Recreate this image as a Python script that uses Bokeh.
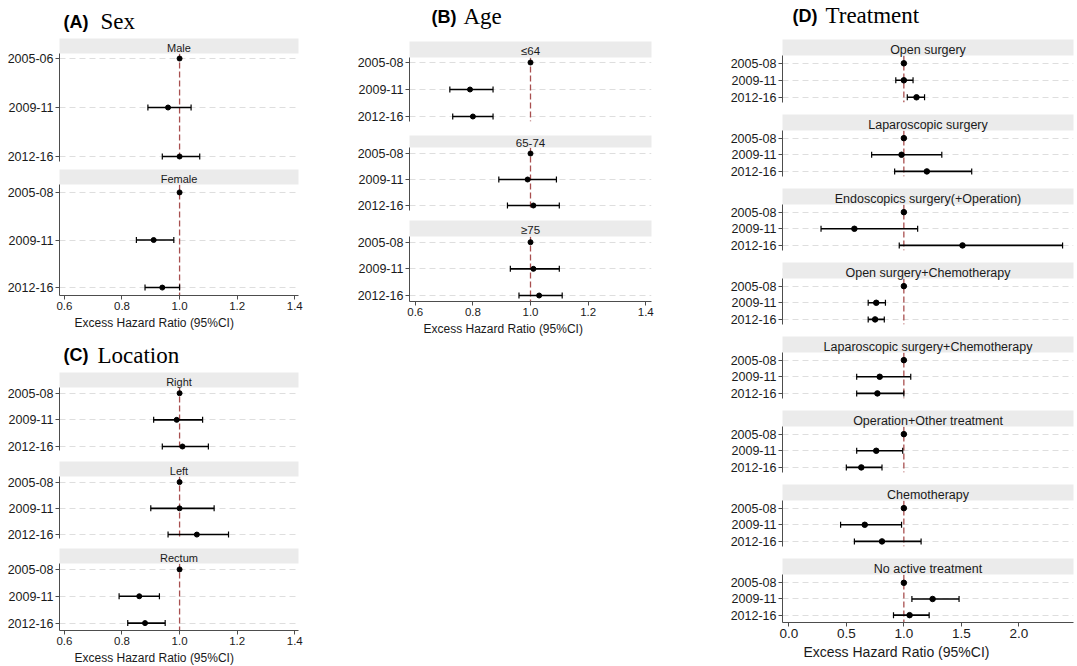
from bokeh.plotting import figure
from bokeh.models import (ColumnDataSource, Range1d, FixedTicker, LinearAxis, Span,
                          Whisker, TeeHead, Label, Title, PrintfTickFormatter)
from bokeh.layouts import column, row
from bokeh.embed import file_html
from bokeh.resources import INLINE

# ---------------- data ----------------
periods = ["2005-08", "2009-11", "2012-16"]
male_periods = ["2005-06", "2009-11", "2012-16"]   # as printed in the source figure

sex_groups = ["Male", "Female"]
sex_est = [[1.00, 0.96, 1.00], [1.00, 0.91, 0.94]]
sex_lo = [[1.00, 0.89, 0.94], [1.00, 0.85, 0.88]]
sex_hi = [[1.00, 1.04, 1.07], [1.00, 0.98, 1.00]]

age_groups = ["≤64", "65-74", "≥75"]
age_est = [[1.00, 0.79, 0.80], [1.00, 0.99, 1.01], [1.00, 1.01, 1.03]]
age_lo = [[1.00, 0.72, 0.73], [1.00, 0.89, 0.92], [1.00, 0.93, 0.96]]
age_hi = [[1.00, 0.87, 0.87], [1.00, 1.09, 1.10], [1.00, 1.10, 1.11]]

loc_groups = ["Right", "Left", "Rectum"]
loc_est = [[1.00, 0.99, 1.01], [1.00, 1.00, 1.06], [1.00, 0.86, 0.88]]
loc_lo = [[1.00, 0.91, 0.94], [1.00, 0.90, 0.96], [1.00, 0.79, 0.82]]
loc_hi = [[1.00, 1.08, 1.10], [1.00, 1.12, 1.17], [1.00, 0.93, 0.95]]

trt_groups = ["Open surgery", "Laparoscopic surgery", "Endoscopics surgery(+Operation)",
              "Open surgery+Chemotherapy", "Laparoscopic surgery+Chemotherapy",
              "Operation+Other treatment", "Chemotherapy", "No active treatment"]
trt_est = [[1.00, 1.00, 1.11], [1.00, 0.98, 1.20], [1.00, 0.57, 1.51], [1.00, 0.76, 0.75],
           [1.00, 0.79, 0.77], [1.00, 0.76, 0.63], [1.00, 0.66, 0.81], [1.00, 1.25, 1.05]]
trt_lo = [[1.00, 0.93, 1.03], [1.00, 0.72, 0.92], [1.00, 0.28, 0.96], [1.00, 0.69, 0.69],
          [1.00, 0.59, 0.59], [1.00, 0.59, 0.50], [1.00, 0.45, 0.57], [1.00, 1.07, 0.91]]
trt_hi = [[1.00, 1.08, 1.18], [1.00, 1.33, 1.59], [1.00, 1.12, 2.38], [1.00, 0.84, 0.83],
          [1.00, 1.06, 1.00], [1.00, 0.99, 0.81], [1.00, 0.98, 1.15], [1.00, 1.48, 1.22]]

panel_letters = ["(A)", "(B)", "(C)", "(D)"]
panel_names = ["Sex", "Age", "Location", "Treatment"]

ticks_small = [0.6, 0.8, 1.0, 1.2, 1.4]
ticks_trt = [0.0, 0.5, 1.0, 1.5, 2.0]
axis_title = "Excess Hazard Ratio (95%CI)"

SANS = "Liberation Sans"
SERIF = "Liberation Serif"
AX = "#4d4d4d"
TXT = "#1a1a1a"


def title_fig(width, L, R, height, letter, word, lx, wx, mid):
    fw = width - L - R
    p = figure(width=width, height=height, x_range=Range1d(0, fw), y_range=Range1d(height, 0),
               output_backend="svg", toolbar_location=None,
               x_axis_location=None, y_axis_location=None,
               min_border_left=L, min_border_right=R, min_border_top=0, min_border_bottom=0)
    p.outline_line_color = None
    p.grid.visible = False
    p.add_layout(Label(x=lx, y=mid, text=letter, text_font=SANS, text_font_style="bold",
                       text_font_size="18px", text_baseline="middle", text_color="black"))
    p.add_layout(Label(x=wx, y=mid, text=word, text_font=SERIF, text_font_size="23px",
                       text_baseline="middle", text_color="black"))
    return p


def subpanel(group, labels, est, lo, hi, width, L, R, T, fh, B, pt, pb, xr,
             strip_font, strip_off, ylab_font, dot, bottom=None):
    n = len(labels)
    spacing = (fh - pt - pb) / (n - 1)
    yr = Range1d(start=(n - 1) + pb / spacing, end=-pt / spacing)
    p = figure(width=width, height=T + fh + B, x_range=Range1d(*xr), y_range=yr,
               output_backend="svg", toolbar_location=None,
               x_axis_location=("below" if bottom else None),
               min_border_left=L, min_border_right=R, min_border_top=T, min_border_bottom=B)
    p.outline_line_color = None
    p.xgrid.visible = False

    if bottom:
        ticks, fmt, tick_font, lab_font, lab_off = bottom
        xa = p.below[0]
        xa.ticker = FixedTicker(ticks=ticks, minor_ticks=[])
        xa.formatter = PrintfTickFormatter(format=fmt)
        xa.major_tick_out = 4
        xa.major_tick_in = 0
        xa.minor_tick_line_color = None
        xa.major_label_standoff = 2
        xa.axis_line_color = AX
        xa.major_tick_line_color = AX
        xa.major_label_text_font = SANS
        xa.major_label_text_font_size = tick_font
        xa.major_label_text_color = TXT
        p.add_layout(Title(text=axis_title, align="left", offset=lab_off,
                           text_font=SANS, text_font_size=lab_font,
                           text_font_style="normal", text_color=TXT, standoff=2),
                     "below")

    idx = list(range(n))
    tk = FixedTicker(ticks=idx, minor_ticks=[])
    ya = p.left[0]
    ya.ticker = tk
    ya.major_label_overrides = {i: labels[i] for i in idx}
    ya.major_tick_out = 4
    ya.major_tick_in = 0
    ya.minor_tick_line_color = None
    ya.major_label_standoff = 2
    ya.axis_line_color = AX
    ya.major_tick_line_color = AX
    ya.major_label_text_font = SANS
    ya.major_label_text_font_size = ylab_font
    ya.major_label_text_color = TXT
    p.ygrid.ticker = tk
    p.ygrid.grid_line_color = "#dedede"
    p.ygrid.grid_line_dash = "6 4"

    strip = LinearAxis(ticker=FixedTicker(ticks=[], minor_ticks=[]), axis_label=group,
                       axis_line_color=None, major_tick_line_color=None,
                       minor_tick_line_color=None, major_tick_out=0, major_tick_in=0,
                       minor_tick_out=0, major_label_standoff=0,
                       axis_label_standoff=strip_off, axis_label_text_font=SANS,
                       axis_label_text_font_size=strip_font,
                       axis_label_text_font_style="normal",
                       axis_label_text_color=TXT,
                       background_fill_color="#ebebeb")
    p.add_layout(strip, "above")

    p.add_layout(Span(location=1.0, dimension="height", line_color="#a84f4f",
                      line_dash="6 3", line_width=1.3, level="underlay"))

    ci_y = [i for i in idx if lo[i] != hi[i]]
    src_ci = ColumnDataSource(dict(y=ci_y, lo=[lo[i] for i in ci_y], hi=[hi[i] for i in ci_y]))
    p.add_layout(Whisker(source=src_ci, base="y", lower="lo", upper="hi", dimension="width",
                         line_color="black", line_width=1.6, level="glyph",
                         lower_head=TeeHead(size=6, line_color="black", line_width=1.2),
                         upper_head=TeeHead(size=6, line_color="black", line_width=1.2)))
    src = ColumnDataSource(dict(y=idx, est=est))
    p.scatter(x="est", y="y", source=src, size=dot, color="black")
    return p


# ---------- column 1 : (A) Sex and (C) Location ----------
W1, L1, R1 = 320, 59, 22
XR1 = (0.583, 1.413)
bot1 = (ticks_small, "%.1f", "11.5px", "12px", 15)
col1 = column(
    title_fig(W1, L1, R1, 38, panel_letters[0], panel_names[0], 4, 41, 21),
    subpanel(sex_groups[0], male_periods, sex_est[0], sex_lo[0], sex_hi[0], W1, L1, R1,
             15, 108, 8, 5, 5, XR1, "11px", 0, "12.5px", 5),
    subpanel(sex_groups[1], periods, sex_est[1], sex_lo[1], sex_hi[1], W1, L1, R1,
             14, 112, 41, 8, 8, XR1, "11px", 0, "12.5px", 5, bottom=bot1),
    title_fig(W1, L1, R1, 36, panel_letters[2], panel_names[2], 4, 38, 18.5),
    subpanel(loc_groups[0], periods, loc_est[0], loc_lo[0], loc_hi[0], W1, L1, R1,
             15, 63, 11, 5.7, 4, XR1, "11px", 0, "12.5px", 5),
    subpanel(loc_groups[1], periods, loc_est[1], loc_lo[1], loc_hi[1], W1, L1, R1,
             14, 63, 10, 5.7, 4, XR1, "11px", 0, "12.5px", 5),
    subpanel(loc_groups[2], periods, loc_est[2], loc_lo[2], loc_hi[2], W1, L1, R1,
             14, 68, 35, 6, 7.5, XR1, "11px", 0, "12.5px", 5, bottom=bot1),
    spacing=0)

# ---------- column 2 : (B) Age ----------
W2, L2, R2 = 380, 89, 49
XR2 = (0.58, 1.42)
bot2 = (ticks_small, "%.1f", "11.5px", "12px", 14)
col2 = column(
    title_fig(W2, L2, R2, 40, panel_letters[1], panel_names[1], 22, 54, 16),
    subpanel(age_groups[0], periods, age_est[0], age_lo[0], age_hi[0], W2, L2, R2,
             17, 64, 10, 5, 5, XR2, "11.5px", 1, "12.5px", 5),
    subpanel(age_groups[1], periods, age_est[1], age_lo[1], age_hi[1], W2, L2, R2,
             16, 63, 10, 6, 5, XR2, "11.5px", 1, "12.5px", 5),
    subpanel(age_groups[2], periods, age_est[2], age_lo[2], age_hi[2], W2, L2, R2,
             16, 65, 35, 5.7, 6, XR2, "11.5px", 1, "12.5px", 5, bottom=bot2),
    spacing=0)

# ---------- column 3 : (D) Treatment ----------
W3, L3, R3 = 376, 82, 3
XR3 = (-0.055, 2.475)
bot3 = (ticks_trt, "%.1f", "13.5px", "14px", 21)
d_figs = [title_fig(W3, L3, R3, 39, panel_letters[3], panel_names[3], 10, 43, 15)]
for k, g in enumerate(trt_groups):
    first = k == 0
    last = k == len(trt_groups) - 1
    d_figs.append(subpanel(g, periods, trt_est[k], trt_lo[k], trt_hi[k], W3, L3, R3,
                           16 if first else 15, 49 if last else 47, 43 if last else 12,
                           8.5 if last else 7.8, 7.5 if last else 5.2, XR3,
                           "12.5px", -1, "12.5px", 5.5,
                           bottom=bot3 if last else None))
col3 = column(*d_figs, spacing=0)

layout = row(col1, col2, col3, spacing=0)
open("out.html", "w").write(file_html(layout, INLINE))
